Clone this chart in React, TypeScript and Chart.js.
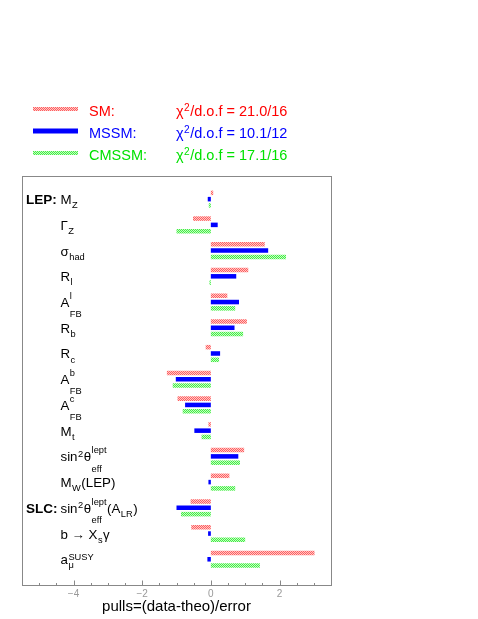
import React, { useEffect, useRef } from 'react';
import { Chart, registerables } from 'chart.js';

Chart.register(...registerables);

// ---------- data ----------
const categories = [
  'M_{Z}',
  'Γ_{Z}',
  'σ_{had}',
  'R_{l}',
  'A^{l}_{FB}',
  'R_{b}',
  'R_{c}',
  'A^{b}_{FB}',
  'A^{c}_{FB}',
  'M_{t}',
  'sin^{2}θ^{lept}_{eff}',
  'M_{W}(LEP)',
  'sin^{2}θ^{lept}_{eff}(A_{LR})',
  'b → X_{s}γ',
  'a_{μ}^{SUSY}',
];
const groupTags = ['LEP:', '', '', '', '', '', '', '', '', '', '', '', 'SLC:', '', ''];

const smPulls = [0.07, -0.52, 1.57, 1.09, 0.48, 1.05, -0.15, -1.28, -0.97, -0.07, 0.97, 0.54, -0.59, -0.57, 3.02];
const mssmPulls = [-0.09, 0.2, 1.67, 0.74, 0.82, 0.69, 0.27, -1.02, -0.75, -0.48, 0.8, -0.07, -1.0, -0.08, -0.1];
const cmssmPulls = [-0.06, -1.0, 2.19, -0.04, 0.71, 0.94, 0.24, -1.11, -0.82, -0.27, 0.85, 0.71, -0.87, 1.0, 1.43];

const seriesNames = ['SM:', 'MSSM:', 'CMSSM:'];
const chi2Values = ['21.0/16', '10.1/12', '17.1/16'];

const xTitle = 'pulls=(data-theo)/error';
const xMin = -5.5;
const xMax = 3.5;

// ---------- helpers ----------
const FF = '"Liberation Sans", Arial, Helvetica, sans-serif';
const RED = '#ff0000';
const BLUE = '#0000ff';
const GREEN = 'rgb(0,225,0)';

function makePattern(strong: string, light: string): CanvasPattern | string {
  const c = document.createElement('canvas');
  c.width = 2;
  c.height = 2;
  const g = c.getContext('2d');
  if (!g) return strong;
  g.fillStyle = light;
  g.fillRect(0, 0, 2, 2);
  g.fillStyle = strong;
  g.fillRect(0, 0, 1, 1);
  g.fillRect(1, 1, 1, 1);
  const ctx = document.createElement('canvas').getContext('2d');
  const p = ctx ? ctx.createPattern(c, 'repeat') : null;
  return p || strong;
}

type Tok = { t: string; sup?: string; sub?: string };

function parseRich(s: string): Tok[] {
  const toks: Tok[] = [];
  let i = 0;
  let buf = '';
  while (i < s.length) {
    const c = s[i];
    if ((c === '^' || c === '_') && s[i + 1] === '{') {
      const j = s.indexOf('}', i + 2);
      const g = s.slice(i + 2, j);
      i = j + 1;
      if (buf) {
        toks.push({ t: buf });
        buf = '';
      }
      if (!toks.length) toks.push({ t: '' });
      const last = toks[toks.length - 1];
      if (c === '^') last.sup = g;
      else last.sub = g;
    } else {
      buf += c;
      i++;
    }
  }
  if (buf) toks.push({ t: buf });
  return toks;
}

function drawRich(ctx: CanvasRenderingContext2D, s: string, x: number, y: number, size: number, color: string) {
  const small = size * 0.7;
  let cx = x;
  ctx.fillStyle = color;
  for (const tok of parseRich(s)) {
    ctx.font = `${size}px ${FF}`;
    ctx.fillText(tok.t, cx, y);
    cx += ctx.measureText(tok.t).width;
    if (tok.sup || tok.sub) {
      const last = tok.t[tok.t.length - 1] || '';
      const tall = /[A-ZΓθbdfhklt]/.test(last);
      ctx.font = `${small}px ${FF}`;
      let w = 0;
      const x0 = cx + 0.5;
      if (tok.sup) {
        const dy = tall ? -0.62 * size : -0.33 * size;
        ctx.fillText(tok.sup, x0, y + dy);
        w = Math.max(w, ctx.measureText(tok.sup).width);
      }
      if (tok.sub) {
        const dy = tok.sup && tall ? 0.77 * size : 0.31 * size;
        ctx.fillText(tok.sub, x0, y + dy);
        w = Math.max(w, ctx.measureText(tok.sub).width);
      }
      cx = x0 + w + 0.5;
    }
  }
}

export default function App() {
  const ref = useRef<HTMLCanvasElement | null>(null);

  useEffect(() => {
    const canvas = ref.current;
    if (!canvas) return;
    const redFill = makePattern('rgb(255,95,95)', 'rgb(255,200,200)');
    const greenFill = makePattern('rgb(70,235,70)', 'rgb(195,255,195)');
    const blueFill = BLUE;
    const legendFills = [redFill, blueFill, greenFill];
    const legendThick = [4, 5, 4];
    const textColors = [RED, BLUE, GREEN];

    const decor = {
      id: 'decor',
      afterDraw(chart: any) {
        const { ctx, chartArea: a, scales } = chart;
        const xs = scales.x;
        const ys = scales.y;
        ctx.save();
        // frame
        ctx.strokeStyle = '#888';
        ctx.lineWidth = 1;
        const L = Math.round(a.left) + 0.5;
        const T = Math.round(a.top) + 0.5;
        ctx.strokeRect(L, T, Math.round(a.right - a.left), Math.round(a.bottom - a.top));
        // inward ticks
        const B = Math.round(a.bottom) + 0.5;
        for (let k = 0; ; k++) {
          const v = xMin + k * 0.5;
          if (v > xMax + 1e-9) break;
          const px = Math.round(xs.getPixelForValue(v)) + 0.5;
          const major = Math.abs(v / 2 - Math.round(v / 2)) < 1e-9;
          ctx.beginPath();
          ctx.moveTo(px, B);
          ctx.lineTo(px, B - (major ? 5 : 2.5));
          ctx.stroke();
        }
        // row labels
        ctx.textAlign = 'left';
        ctx.textBaseline = 'alphabetic';
        categories.forEach((lab, i) => {
          const py = ys.getPixelForValue(i) + 5;
          if (groupTags[i]) {
            ctx.font = `bold 13.5px ${FF}`;
            ctx.fillStyle = '#000';
            ctx.fillText(groupTags[i], a.left + 4, py);
          }
          drawRich(ctx, lab, a.left + 38.5, py, 13.3, '#000');
        });
        // legend
        seriesNames.forEach((name, k) => {
          const cy = 109 + 22 * k;
          ctx.fillStyle = legendFills[k];
          ctx.fillRect(33, cy - legendThick[k] / 2, 45, legendThick[k]);
          ctx.font = `14.5px ${FF}`;
          ctx.fillStyle = textColors[k];
          ctx.fillText(name, 89, cy + 6.5);
          drawRich(ctx, `χ^{2}/d.o.f = ${chi2Values[k]}`, 176, cy + 6.5, 14.5, textColors[k]);
        });
        ctx.restore();
      },
    };

    const mk = (arr: number[]) => arr.map((v, i) => ({ x: v, y: i }));
    const common = { borderWidth: 0, categoryPercentage: 0.8165, barPercentage: 0.72 };

    const chart = new Chart(canvas, {
      type: 'bar',
      data: {
        datasets: [
          { label: 'SM', data: mk(smPulls), backgroundColor: redFill as any, ...common },
          { label: 'MSSM', data: mk(mssmPulls), backgroundColor: blueFill, ...common },
          { label: 'CMSSM', data: mk(cmssmPulls), backgroundColor: greenFill as any, ...common },
        ],
      },
      options: {
        indexAxis: 'y',
        animation: false,
        responsive: false,
        maintainAspectRatio: false,
        layout: { padding: { left: 22, right: 147, top: 176, bottom: 0 } },
        plugins: { legend: { display: false }, tooltip: { enabled: false } },
        scales: {
          x: {
            type: 'linear',
            position: 'bottom',
            min: xMin,
            max: xMax,
            grid: { display: false, drawTicks: false },
            border: { display: false },
            ticks: {
              stepSize: 2,
              includeBounds: false,
              color: '#999',
              padding: 3,
              font: { size: 10, family: FF },
              callback: (v: any) => (Number(v) < 0 ? '\u2212' + Math.abs(Number(v)) : String(v)),
            },
            title: {
              display: true,
              text: xTitle,
              color: '#000',
              font: { size: 15, family: FF },
              padding: { top: 0, bottom: 3 },
            },
            afterFit: (s: any) => {
              s.height = 34;
            },
          },
          y: {
            type: 'linear',
            min: -0.9,
            max: 15,
            reverse: true,
            display: false,
            offset: false,
            grid: { offset: false },
          },
        },
      } as any,
      plugins: [decor],
    });
    return () => chart.destroy();
  }, []);

  return (
    <div style={{ position: 'absolute', left: 0, top: 0, width: 478, height: 619, background: '#fff' }}>
      <canvas ref={ref} width={478} height={619} style={{ display: 'block' }} />
    </div>
  );
}
